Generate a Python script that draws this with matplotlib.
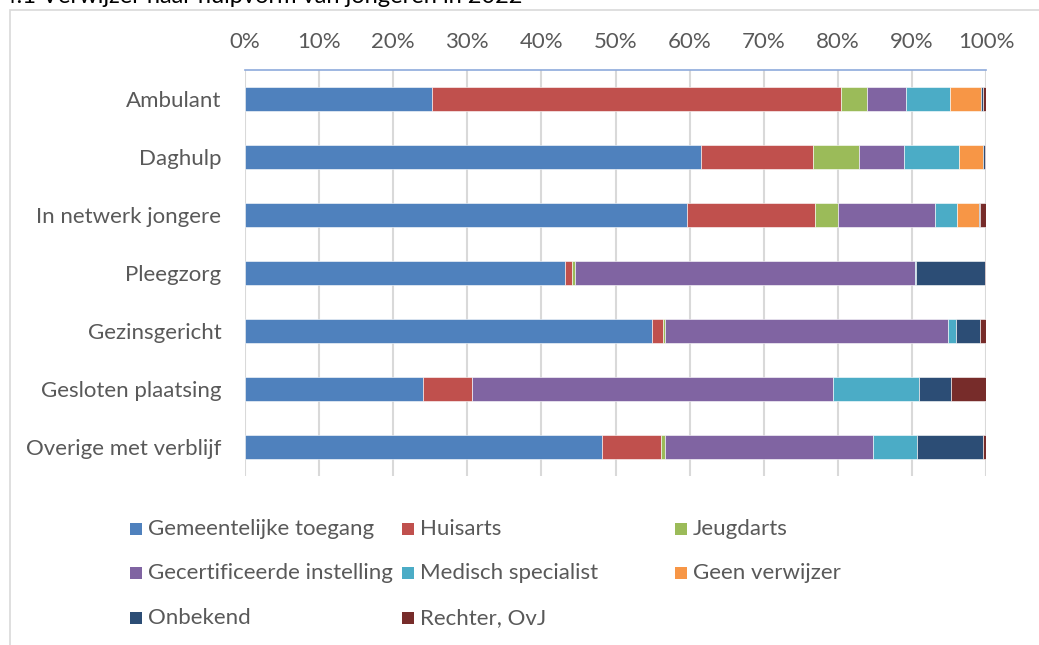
import matplotlib.pyplot as plt
from matplotlib.patches import Rectangle
import numpy as np

plt.rcParams['font.family'] = ['Lato', 'DejaVu Sans']

categories = ['Ambulant', 'Daghulp', 'In netwerk jongere', 'Pleegzorg',
              'Gezinsgericht', 'Gesloten plaatsing', 'Overige met verblijf']
series = ['Gemeentelijke toegang', 'Huisarts', 'Jeugdarts',
          'Gecertificeerde instelling', 'Medisch specialist', 'Geen verwijzer',
          'Onbekend', 'Rechter, OvJ']
colors = ['#4F81BD', '#C0504D', '#9BBB59', '#8064A2',
          '#4BACC6', '#F79646', '#2C4D75', '#772C2A']

# percentages per category (rows) and per referrer (columns)
gemeentelijke = [25.2, 61.6, 59.6, 43.2, 54.9, 24.0, 48.2]
huisarts      = [55.2, 15.0, 17.3, 0.9, 1.5, 6.7, 7.9]
jeugdarts     = [3.6, 6.2, 3.1, 0.4, 0.3, 0.0, 0.6]
gecertificeerd = [5.2, 6.2, 13.1, 45.9, 38.2, 48.6, 28.0]
medisch       = [5.9, 7.4, 3.0, 0.2, 1.1, 11.7, 6.0]
geen          = [4.2, 3.2, 2.9, 0.0, 0.0, 0.0, 0.0]
onbekend      = [0.3, 0.3, 0.2, 9.2, 3.2, 4.3, 8.9]
rechter       = [0.4, 0.1, 0.8, 0.2, 0.8, 4.7, 0.4]

xticks = [0, 10, 20, 30, 40, 50, 60, 70, 80, 90, 100]

values = [gemeentelijke, huisarts, jeugdarts, gecertificeerd,
          medisch, geen, onbekend, rechter]

W, H = 1039, 645
fig = plt.figure(figsize=(W / 100, H / 100), dpi=100)
ax = fig.add_axes([245 / W, 1 - 476 / H, (986 - 245) / W, (476 - 70) / H])

# chart frame
fig.patches.append(Rectangle((10 / W, -0.1), 2, 1.1 - 10 / H, transform=fig.transFigure,
                             fill=False, edgecolor='#D9D9D9', linewidth=1.2))
fig.text(0.003, 1 - 3 / H, '4.1 Verwijzer naar hulpvorm van jongeren in 2022',
         fontsize=17, color='#000000', va='baseline', ha='left')

y = np.arange(len(categories))
left = np.zeros(len(categories))
total = np.array([sum(r) for r in zip(*values)])
for vals, name, col in zip(values, series, colors):
    v = np.array(vals, dtype=float) / total * 100
    ax.barh(y, v, left=left, height=0.41, color=col, edgecolor='white',
            linewidth=0.4, label=name, zorder=3)
    left += v

ax.set_xlim(0, 100)
ax.set_ylim(len(categories) - 0.5, -0.5)
ax.set_yticks(y)
ax.set_yticklabels(categories)
ax.set_xticks(xticks)
ax.set_xticklabels([f'{t}%' for t in xticks])
ax.xaxis.tick_top()
ax.tick_params(axis='x', length=0, pad=13, labelsize=16, labelcolor='#595959')
ax.tick_params(axis='y', length=0, pad=17, labelsize=16, labelcolor='#595959')
ax.grid(axis='x', color='#D9D9D9', linewidth=1.5, zorder=0)
for s in ['right', 'bottom', 'left']:
    ax.spines[s].set_visible(False)
ax.spines['top'].set_color('#8EAADB')
ax.spines['top'].set_linewidth(1.2)

# legend, Excel style: three equal columns, filled row by row
col_x = [130, 402, 675]
row_y = [529, 573, 618]
for i, (name, col) in enumerate(zip(series, colors)):
    cx = col_x[i % 3]
    cy = row_y[i // 3]
    fig.patches.append(Rectangle((cx / W, 1 - (cy + 6) / H), 12 / W, 12 / H,
                                 transform=fig.transFigure, facecolor=col,
                                 edgecolor='none'))
    fig.text((cx + 18) / W, 1 - cy / H, name, fontsize=16, color='#595959',
             va='center', ha='left')

fig.savefig('out.png', dpi=100)
